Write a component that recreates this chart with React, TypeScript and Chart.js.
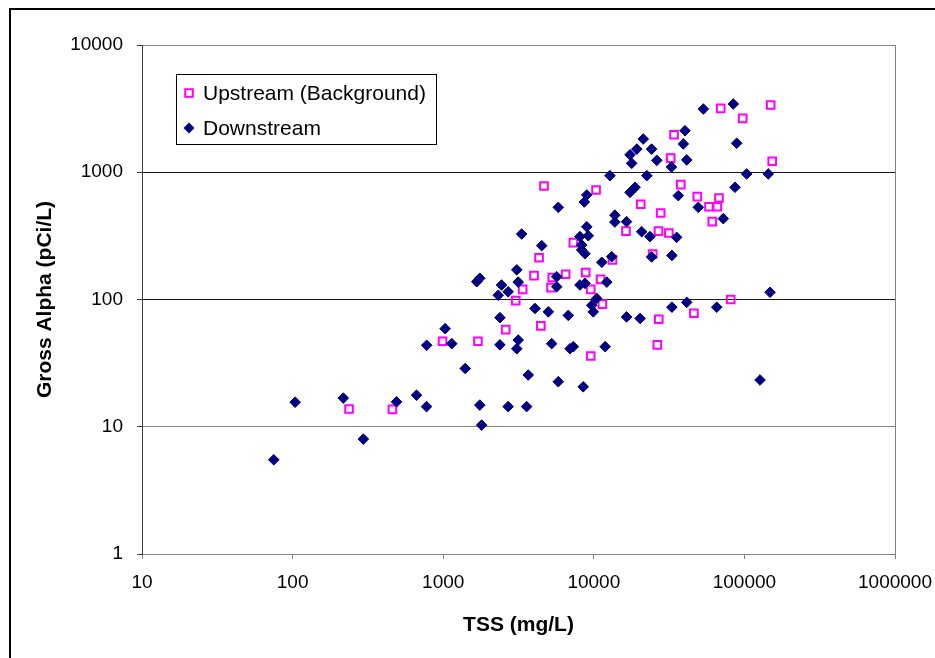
import React, { useEffect, useRef } from 'react';
import { Chart, registerables } from 'chart.js';

Chart.register(...registerables);

const X_TICKS = [10, 100, 1000, 10000, 100000, 1000000];
const Y_TICKS = [1, 10, 100, 1000, 10000];
const X_TITLE = 'TSS (mg/L)';
const Y_TITLE = 'Gross Alpha (pCi/L)';
const SERIES_NAMES = ['Upstream (Background)', 'Downstream'];

const UP_TSS = [237, 460, 990, 1700, 2600, 3030, 3370, 4010, 4330, 4450, 4670, 5200, 5300, 6500, 7310, 8830, 9540, 9540, 10350, 11100, 11400, 13300, 16350, 20500, 24600, 26900, 27800, 27000, 26400, 31500, 32400, 34100, 37800, 46200, 48700, 58200, 61200, 66100, 67800, 69600, 81100, 97400, 149500, 153000];
const UP_ALPHA = [13.8, 13.7, 47, 47, 58, 98, 120, 154, 213, 62, 780, 124, 149, 158, 280, 163, 120, 36, 726, 144, 92, 205, 345, 560, 228, 345, 478, 70, 44, 333, 1290, 1970, 800, 78, 643, 536, 409, 536, 628, 3180, 100, 2650, 3380, 1220];

const DOWN_TSS = [75, 104, 217, 295, 490, 665, 775, 777, 1030, 1140, 1400, 1670, 1750, 1750, 1800, 2320, 2700, 2440, 2380, 2380, 2700, 3080, 3150, 3150, 3080, 3320, 3580, 3670, 4070, 4510, 4990, 5250, 5670, 5670, 5810, 5810, 6770, 6950, 7310, 8090, 8310, 8310, 8740, 9190, 8980, 8980, 8650, 8090, 8740, 8510, 9690, 9920, 10450, 11300, 11900, 12200, 12800, 13150, 13800, 13800, 16500, 16500, 17400, 18800, 17400, 17850, 19300, 21300, 20300, 20800, 22500, 23600, 24200, 26200, 24200, 32800, 33000, 33000, 36400, 35500, 39300, 40300, 41400, 41400, 49400, 53400, 65500, 72400, 84400, 86600, 88900, 103500, 144000, 148000, 127000];
const DOWN_ALPHA = [5.5, 15.6, 16.8, 8.0, 15.7, 17.7, 14.4, 43.7, 59, 45, 28.7, 138, 147, 14.8, 10.3, 108, 115, 130, 72, 44, 14.4, 171, 137, 48, 41, 327, 14.4, 25.5, 85, 265, 80, 45, 151, 126, 530, 22.6, 75, 41, 42.6, 312, 268, 245, 229, 317, 373, 663, 584, 130, 134, 20.6, 90, 80, 102, 196, 42.6, 137, 940, 217, 460, 406, 409, 73, 695, 762, 1370, 1175, 1520, 1825, 71, 341, 940, 312, 1520, 1240, 216, 1100, 222, 87, 655, 308, 1670, 2120, 1250, 95, 530, 3140, 87, 432, 3440, 762, 1690, 970, 970, 114, 23.3];

const UP_COLOR = '#FF00FF';
const DOWN_COLOR = '#000080';
const FONT = '"Liberation Sans", Arial, sans-serif';

const framePlugin = {
  id: 'frame',
  beforeDraw(chart: any) {
    const ctx = chart.ctx;
    ctx.save();
    ctx.fillStyle = '#ffffff';
    ctx.fillRect(0, 0, chart.width, chart.height);
    ctx.strokeStyle = '#000000';
    ctx.lineWidth = 2;
    ctx.strokeRect(10, 9, chart.width + 100, chart.height + 100);
    ctx.restore();
  },
};

const legendPlugin = {
  id: 'boxLegend',
  afterDraw(chart: any) {
    const ctx = chart.ctx;
    const ca = chart.chartArea;
    const x0 = Math.round(ca.left + 34);
    const y0 = Math.round(ca.top + 29);
    const w = 260;
    const h = 70;
    ctx.save();
    ctx.fillStyle = '#ffffff';
    ctx.fillRect(x0, y0, w, h);
    ctx.strokeStyle = '#000000';
    ctx.lineWidth = 1;
    ctx.strokeRect(x0 + 0.5, y0 + 0.5, w, h);
    chart.data.datasets.forEach((ds: any, i: number) => {
      const cy = y0 + 19 + i * 35;
      const cx = x0 + 13;
      if (ds.pointStyle === 'rect') {
        ctx.strokeStyle = ds.borderColor;
        ctx.lineWidth = 2;
        ctx.strokeRect(cx - 3.8, cy - 3.8, 7.6, 7.6);
      } else {
        const r = 5.5;
        ctx.fillStyle = ds.backgroundColor;
        ctx.beginPath();
        ctx.moveTo(cx - r, cy);
        ctx.lineTo(cx, cy - r);
        ctx.lineTo(cx + r, cy);
        ctx.lineTo(cx, cy + r);
        ctx.closePath();
        ctx.fill();
      }
      ctx.fillStyle = '#000000';
      ctx.font = `21px ${FONT}`;
      ctx.textBaseline = 'middle';
      ctx.textAlign = 'left';
      ctx.fillText(ds.label, x0 + 27, cy + 1);
    });
    ctx.restore();
  },
};

export default function App() {
  const ref = useRef<HTMLCanvasElement | null>(null);

  useEffect(() => {
    if (!ref.current) return;
    const up = UP_TSS.map((x, i) => ({ x, y: UP_ALPHA[i] }));
    const down = DOWN_TSS.map((x, i) => ({ x, y: DOWN_ALPHA[i] }));
    const chart = new Chart(ref.current, {
      type: 'scatter',
      data: {
        datasets: [
          {
            label: SERIES_NAMES[0],
            data: up,
            pointStyle: 'rect',
            pointRadius: 5.4,
            pointBorderWidth: 2,
            borderColor: UP_COLOR,
            backgroundColor: 'rgba(255,255,255,0)',
            order: 1,
          } as any,
          {
            label: SERIES_NAMES[1],
            data: down,
            pointStyle: 'rectRot',
            pointRadius: 5.3,
            pointBorderWidth: 1,
            borderColor: DOWN_COLOR,
            backgroundColor: DOWN_COLOR,
            order: 0,
          } as any,
        ],
      },
      options: {
        responsive: false,
        animation: false,
        devicePixelRatio: 1,
        events: [],
        layout: { padding: { left: 0, top: 45, right: 40, bottom: 0 } },
        plugins: {
          legend: { display: false },
          tooltip: { enabled: false },
          title: { display: false },
        },
        scales: {
          x: {
            type: 'logarithmic',
            position: 'bottom',
            min: 10,
            max: 1000000,
            afterBuildTicks: (s: any) => {
              s.ticks = X_TICKS.map((v) => ({ value: v }));
            },
            afterFit: (s: any) => {
              s.height = 104;
              s.paddingLeft = 0;
              s.paddingRight = 0;
            },
            ticks: {
              autoSkip: false,
              maxRotation: 0,
              padding: 12,
              color: '#000000',
              font: { family: FONT, size: 19 },
              callback: (v: any) => String(v),
            },
            grid: {
              color: (c: any) => (c.tick && c.tick.value === 1000000 ? '#808080' : 'rgba(0,0,0,0)'),
              tickColor: '#808080',
              tickLength: 5,
              lineWidth: 1,
            },
            border: { display: true, color: '#808080', width: 1 },
            title: {
              display: true,
              text: X_TITLE,
              color: '#000000',
              font: { family: FONT, size: 21, weight: 'bold' },
              padding: { top: 0, bottom: 20 },
            },
          },
          y: {
            type: 'logarithmic',
            position: 'left',
            min: 1,
            max: 10000,
            afterBuildTicks: (s: any) => {
              s.ticks = Y_TICKS.map((v) => ({ value: v }));
            },
            afterFit: (s: any) => {
              s.width = 142;
              s.paddingTop = 0;
              s.paddingBottom = 0;
            },
            ticks: {
              autoSkip: false,
              padding: 14,
              color: '#000000',
              font: { family: FONT, size: 19 },
              callback: (v: any) => String(v),
            },
            grid: {
              color: (c: any) => {
                const v = c.tick ? c.tick.value : 0;
                return v === 100 || v === 1000 ? '#1a1a1a' : '#808080';
              },
              tickColor: '#404040',
              tickLength: 5,
              lineWidth: 1,
            },
            border: { display: true, color: '#404040', width: 1 },
            title: {
              display: true,
              text: Y_TITLE,
              color: '#000000',
              font: { family: FONT, size: 21, weight: 'bold' },
              padding: { top: 33, bottom: 0 },
            },
          },
        },
      } as any,
      plugins: [framePlugin, legendPlugin],
    });
    return () => chart.destroy();
  }, []);

  return (
    <div style={{ position: 'fixed', left: 0, top: 0, width: 935, height: 658, background: '#fff' }}>
      <canvas ref={ref} width={935} height={658} style={{ display: 'block', width: 935, height: 658 }} />
    </div>
  );
}
